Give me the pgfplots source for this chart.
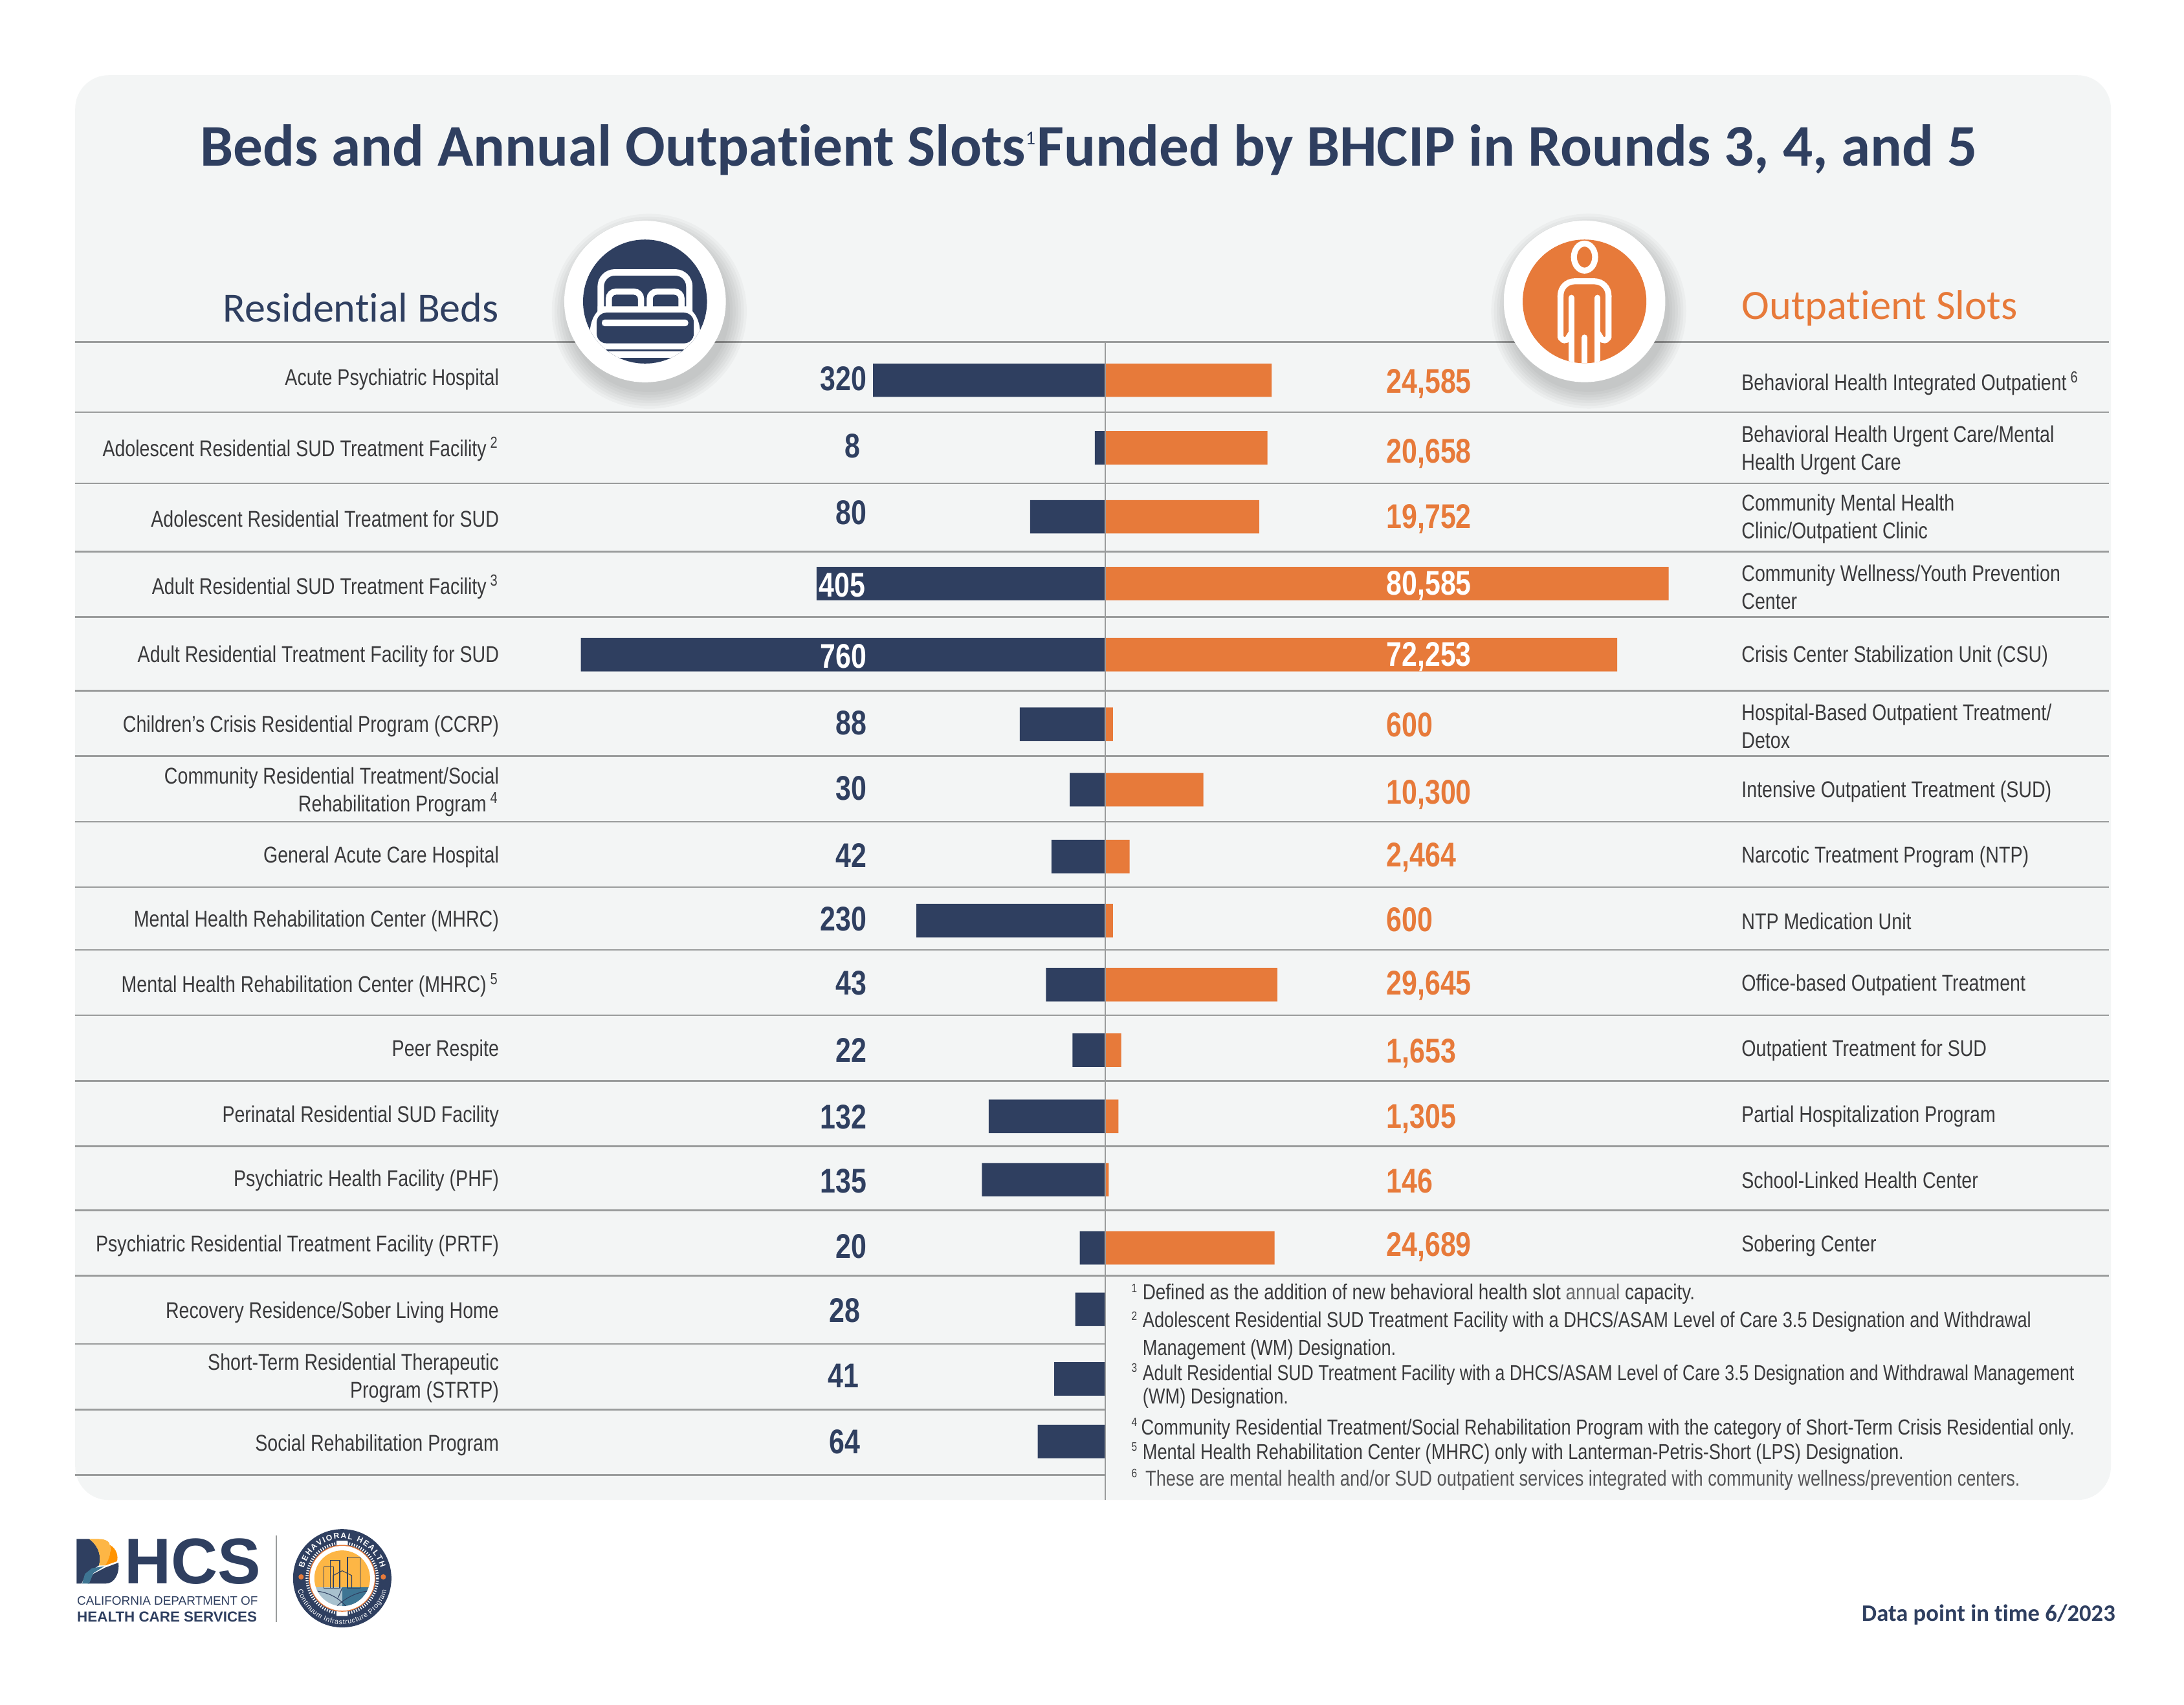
\documentclass[border=0pt]{standalone}
\usepackage{fontspec}
\usepackage{pgfplots}
\usepackage{pgfplotstable}
\pgfplotsset{compat=1.18}
\usetikzlibrary{decorations.text}
\setmainfont[FakeStretch=0.81]{Liberation Sans}
\newfontfamily\fnthree[FakeStretch=0.795]{Liberation Sans}
\newfontfamily\fnone[FakeStretch=0.83]{Liberation Sans}
\newfontfamily\headfont[Ligatures=NoCommon]{Carlito}
\newfontfamily\logofont{Liberation Sans}
\definecolor{navy}{HTML}{2F3F60}
\definecolor{org}{HTML}{E77A3A}
\definecolor{panel}{HTML}{F3F5F5}
\definecolor{rulec}{HTML}{9A9C9C}
\definecolor{txt}{HTML}{3A3A3C}
\definecolor{sun}{HTML}{FDB645}
\definecolor{teal1}{HTML}{3E7593}
% pos = bar centre row position; drawn = bar length as drawn in the reference
% (the reference's bars are not strictly proportional to the printed numbers)
\pgfplotstableread{
pos drawn
273 336
321.5 14
371 108
419 418
470 760
520 123
567 50.5
615 77
661 273
707 85
754 46.5
801.5 168
847 178
896 36
940 42.5
990 73
1035 97
}\bedsdata
\pgfplotstableread{
pos drawn
273 23877
321.5 23280
371 22087
419 80585
470 73223
520 1194
567 14127
615 3582
661 1194
707 24673
754 2388
801.5 1990
847 597
896 24275
}\slotsdata
\begin{document}
\begin{tikzpicture}[x=1pt,y=1pt]
\begin{scope}[x=0.5pt,y=-0.5pt]
\path[fill=white] (0,0) rectangle (1568,1223.75);
\fill[panel,rounded corners=12pt] (54,54) rectangle (1515.5,1077);
\foreach \y in {245.5,296,347,396,443,496,543,590,637,682,729,776,823,869,916}
  \draw[rulec,line width=0.6pt] (54,\y) -- (1514,\y);
\foreach \y in {965,1012,1059}
  \draw[rulec,line width=0.6pt] (54,\y) -- (793,\y);
\node[anchor=base,text=navy,font=\headfont\bfseries\fontsize{21.2}{24}\selectfont,inner sep=0] at (781.5,119)
  {Beds and Annual Outpatient Slots\textsuperscript{\fontsize{7}{8}\selectfont\mdseries1}Funded by BHCIP in Rounds 3, 4, and 5};
\node[anchor=east,text=navy,font=\headfont\fontsize{14.9}{16}\selectfont,inner sep=0] at (358.5,221) {Residential Beds};
\node[anchor=west,text=org,font=\headfont\fontsize{15}{16}\selectfont,inner sep=0] at (1250,221.5) {Outpatient Slots};
\end{scope}

% ---- left bars
\begin{axis}[at={(396.5pt,-122.5pt)},anchor=north east,scale only axis,width=215pt,height=416pt,
  xmin=-869.2,xmax=0,ymin=245,ymax=1077,y dir=reverse,x dir=normal,
  axis x line=none,axis y line=left,axis line style={draw=none,-},major tick length=0pt,
  xtick=\empty,clip=false,
  ytick={271,321,371,420,470,520,567,614,660,706,753,800,846,893,941,988,1036},
  yticklabels={{Acute Psychiatric Hospital},{Adolescent Residential SUD Treatment Facility\,\textsuperscript{2}},{Adolescent Residential Treatment for SUD},{Adult Residential SUD Treatment Facility\,\textsuperscript{3}},{Adult Residential Treatment Facility for SUD},{Children’s Crisis Residential Program (CCRP)},{Community Residential Treatment/Social\\Rehabilitation Program\,\textsuperscript{4}},{General Acute Care Hospital},{Mental Health Rehabilitation Center (MHRC)},{Mental Health Rehabilitation Center (MHRC)\,\textsuperscript{5}},{Peer Respite},{Perinatal Residential SUD Facility},{Psychiatric Health Facility (PHF)},{Psychiatric Residential Treatment Facility (PRTF)},{Recovery Residence/Sober Living Home},{Short-Term Residential Therapeutic\\Program (STRTP)},{Social Rehabilitation Program}},
  y tick label style={align=right,inner sep=2.2pt,yshift=-0.7pt,text=txt,font=\fontsize{8.2}{10}\selectfont},
  ]
\addplot[xbar,bar width=12pt,fill=navy,draw=none] table[x expr=-\thisrow{drawn},y=pos]{\bedsdata};
\end{axis}

% ---- right bars
\begin{axis}[at={(396.5pt,-122.5pt)},anchor=north west,scale only axis,width=226pt,height=416pt,
  xmin=0,xmax=89932,ymin=245,ymax=1077,y dir=reverse,
  axis x line=none,axis y line=right,axis line style={draw=none,-},major tick length=0pt,
  xtick=\empty,clip=false,
  ytick={274,322,371,420,470,520,567,614,660,706,753,800,846,893},
  yticklabels={{Behavioral Health Integrated Outpatient\,\textsuperscript{6}},{Behavioral Health Urgent Care/Mental\\Health Urgent Care},{Community Mental Health\\Clinic/Outpatient Clinic},{Community Wellness/Youth Prevention\\Center},{Crisis Center Stabilization Unit (CSU)},{Hospital-Based Outpatient Treatment/\\Detox},{Intensive Outpatient Treatment (SUD)},{Narcotic Treatment Program (NTP)},{NTP Medication Unit},{Office-based Outpatient Treatment},{Outpatient Treatment for SUD},{Partial Hospitalization Program},{School-Linked Health Center},{Sobering Center}},
  y tick label style={align=left,inner sep=2.5pt,yshift=-0.7pt,text=txt,font=\fontsize{8.2}{10}\selectfont},
  ]
\addplot[xbar,bar width=12pt,fill=org,draw=none] table[x=drawn,y=pos]{\slotsdata};
\end{axis}

\begin{scope}[x=0.5pt,y=-0.5pt]
\draw[rulec,line width=0.6pt] (793.5,245) -- (793.5,1077);
% printed numbers
\tikzset{lab/.style={inner sep=0,font=\bfseries\fontsize{12.3}{14}\selectfont}}
\foreach \t/\y/\x/\c in {320/272/622.5/navy,8/320/618/navy,80/368/622.5/navy,405/420/621.5/white,760/471/622.5/white,88/519/622.5/navy,30/566/622.5/navy,42/614/622.5/navy,230/660/622.5/navy,43/706/622.5/navy,22/754/622.5/navy,132/802/622.5/navy,135/848/622.5/navy,20/895/622.5/navy,28/941/618/navy,41/988/617/navy,64/1035/618/navy}
  \node[lab,anchor=east,text=\c] at (\x,\y) {\t};
\foreach \t/\y/\c in {{24,585}/275.5/org,{20,658}/325.5/org,{19,752}/372.5/org,{80,585}/420.5/white,{72,253}/471.5/white,600/520.5/org,{10,300}/570.5/org,{2,464}/615.5/org,600/660.5/org,{29,645}/707.5/org,{1,653}/756.5/org,{1,305}/803.5/org,146/848/org,{24,689}/895.5/org}
  \node[lab,anchor=west,text=\c] at (995,\y) {\t};

% footnotes
\tikzset{fn/.style={anchor=west,inner sep=0,text=txt,font=\fontsize{7.8}{9}\selectfont},
         fs/.style={anchor=west,inner sep=0,text=txt,font=\fontsize{4.4}{5}\selectfont}}
\node[fs] at (812,925) {1};
\node[fn] at (820,929) {\fnone Defined as the addition of new behavioral health slot {\color{txt!75}annual} capacity.};
\node[fs] at (812,945) {2};
\node[fn] at (820,949) {Adolescent Residential SUD Treatment Facility with a DHCS/ASAM Level of Care 3.5 Designation and Withdrawal};
\node[fn] at (820,969) {Management (WM) Designation.};
\node[fs] at (812,982) {3};
\node[fn] at (820,987) {\fnthree Adult Residential SUD Treatment Facility with a DHCS/ASAM Level of Care 3.5 Designation and Withdrawal Management};
\node[fn] at (820,1004) {(WM) Designation.};
\node[fs] at (812,1021) {4};
\node[fn] at (819,1026) {Community Residential Treatment/Social Rehabilitation Program with the category of Short-Term Crisis Residential only.};
\node[fs] at (812,1039) {5};
\node[fn] at (820,1044) {Mental Health Rehabilitation Center (MHRC) only with Lanterman-Petris-Short (LPS) Designation.};
\node[fs] at (812,1058) {6};
\node[fn,text=txt!85] at (822,1063) {These are mental health and/or SUD outpatient services integrated with community wellness/prevention centers.};

% bed icon
\begin{scope}[shift={(463.1,216.5)}]
 \foreach \r in {70,68,66,64,62,60,58} \fill[black,opacity=0.028] (3,7) circle[radius=\r];
 \fill[white] (0,0) circle[radius=58];
 \begin{scope}
 \clip (0,0) circle[radius=44.5];
 \fill[navy] (0,0) circle[radius=45];
 \draw[white,line width=2.3pt,rounded corners=5pt] (-31.8,8) -- (-31.8,-20.9) -- (31.8,-20.9) -- (31.8,8);
 \draw[white,line width=2.2pt,rounded corners=2.5pt] (-26,5) -- (-26,-7.1) -- (-2.9,-7.1) -- (-2.9,5);
 \draw[white,line width=2.2pt,rounded corners=2.5pt] (3.4,5) -- (3.4,-7.1) -- (26.2,-7.1) -- (26.2,5);
 \fill[white] (-34,3.4) -- (34,3.4) -- (34,7) .. controls (37,10) and (39,15) .. (39.5,20.5) -- (50,50) -- (-50,50) -- (-39.5,20.5) .. controls (-39,15) and (-37,10) .. (-34,7) -- cycle;
 \fill[navy,rounded corners=3.5pt] (-34.7,8) -- (35,8) -- (35,30) -- (-34.7,30) -- cycle;
 \fill[white,rounded corners=1pt] (-31,13) rectangle (31,17.7);
 \fill[navy] (-28,34.5) rectangle (28,35.6);
 \fill[navy] (-50,40.6) rectangle (50,50);
 \end{scope}
\end{scope}

% person icon
\begin{scope}[shift={(1137.6,216.4)}]
 \foreach \r in {70,68,66,64,62,60,58} \fill[black,opacity=0.028] (3,7) circle[radius=\r];
 \fill[white] (0,0) circle[radius=58];
 \begin{scope}
 \clip (0,0) circle[radius=44.4];
 \fill[org] (0,0) circle[radius=45];
 \draw[white,line width=2.15pt] (0,-31.8) ellipse[x radius=7.6,y radius=9.7];
 \draw[white,line width=2.15pt,line cap=round] (-9.4,50) -- (-9.4,-2.6);
 \draw[white,line width=2.15pt,line cap=round] (9.4,50) -- (9.4,-2.6);
 \draw[white,line width=2.15pt,line cap=round] (0,50) -- (0,26);
 \draw[white,line width=2.15pt,line join=round,line cap=round] (-9.4,22.5) -- (-12.5,27.5) -- (-15,28) -- (-17.2,26) -- (-17.2,-4);
 \draw[white,line width=2.15pt,line join=round,line cap=round] (9.4,22.5) -- (12.5,27.5) -- (15,28) -- (17.2,26) -- (17.2,-4);
 \draw[white,line width=2.15pt,rounded corners=5pt] (-17.2,-3) -- (-17.2,-14.4) -- (17.2,-14.4) -- (17.2,-3);
 \end{scope}
\end{scope}

% DHCS logo
\fill[navy] (55,1105) -- (64,1105) .. controls (71,1110) and (73,1118) .. (71,1124) -- (62,1130) -- (58.5,1137) -- (55,1137) -- cycle;
\fill[sun] (64,1105) -- (71,1105) .. controls (76,1105) and (79,1107) .. (79,1110) .. controls (80,1115) and (78,1120) .. (75.6,1124) -- (71,1124) .. controls (73,1118) and (71,1110) .. cycle;
\fill[orange!85!yellow] (79,1109.4) .. controls (84,1112) and (85,1118) .. (84,1121) -- (75.6,1124) .. controls (78,1120) and (80,1115) .. cycle;
\fill[navy] (75.6,1125.5) -- (85,1122) .. controls (86,1130) and (82,1137) .. (76,1137) -- (63,1137) -- (67,1130) -- cycle;
\fill[teal1] (59,1137) -- (64,1137) -- (67,1129.5) -- (75,1124.5) -- (66,1126) -- (61,1130) -- cycle;
\node[anchor=west,inner sep=0,text=navy,font=\logofont\bfseries\fontsize{23.2}{24}\selectfont] at (89,1121) {HCS};
\node[anchor=west,inner sep=0,text=navy,font=\logofont\fontsize{4.4}{6}\selectfont] at (55,1149.3) {CALIFORNIA DEPARTMENT OF};
\node[anchor=west,inner sep=0,text=navy,font=\logofont\bfseries\fontsize{5.2}{6}\selectfont] at (55,1161) {HEALTH CARE SERVICES};
\draw[rulec,line width=0.5pt] (198.3,1102.6) -- (198.3,1164.6);

% seal
\begin{scope}[shift={(245.7,1133.2)}]
 \fill[navy] (0,0) circle[radius=35.3];
 \draw[white,line width=1pt,dash pattern=on 0.35pt off 0.55pt] (0,0) circle[radius=25.3];
 \fill[white] (-4,-27) rectangle (4,-23.5) (-4,23.5) rectangle (4,27);
 \draw[org,line width=0.4pt] (0,0) circle[radius=23.6];
 \fill[white] (0,0) circle[radius=23.3];
 \begin{scope}
  \clip (0,0) circle[radius=20];
  \fill[sun] (-22,-22) rectangle (22,6.6);
  \fill[teal1!45!white] (-22,6.6) rectangle (0,22);
  \fill[teal1] (0,6.6) rectangle (22,22);
  \draw[navy,line width=0.25pt] (-13.1,7) rectangle (-6.1,-8.2) (-8.5,7) rectangle (-1.8,-12.9) (3.8,7) rectangle (13,-15.2);
  \draw[navy,line width=0.25pt] (-6.5,7) -- (-6.5,-2) -- (0,-5.4) -- (6.8,-2) -- (6.8,7);
  \draw[navy,line width=0.25pt] (-20,9) .. controls (-8,10) and (0,16) .. (4,22) (20,9) .. controls (8,10) and (0,16) .. (-6,22) (0,7) -- (-3,14);
 \end{scope}
 \fill[org] (-29.5,-1) circle[radius=1.9];
 \fill[org] (29.5,-1) circle[radius=1.9];
 \path[decorate,decoration={text along path,text align={fit to path},text={|\logofont\bfseries\fontsize{2.85}{4}\selectfont\color{white}|BEHAVIORAL HEALTH}}] (-27.53,-7.38) arc[start angle=195,end angle=345,radius=28.5];
 \path[decorate,decoration={text along path,text align={fit to path},text={|\logofont\fontsize{2.5}{4}\selectfont\color{white}|Continuum Infrastructure Program}}] (-31.88,8.54) arc[start angle=165,end angle=15,radius=33];
\end{scope}

\node[anchor=east,inner sep=0,text=navy,font=\headfont\bfseries\fontsize{8.5}{11}\selectfont] at (1519,1159.5) {Data point in time 6/2023};
\end{scope}
\end{tikzpicture}
\end{document}
